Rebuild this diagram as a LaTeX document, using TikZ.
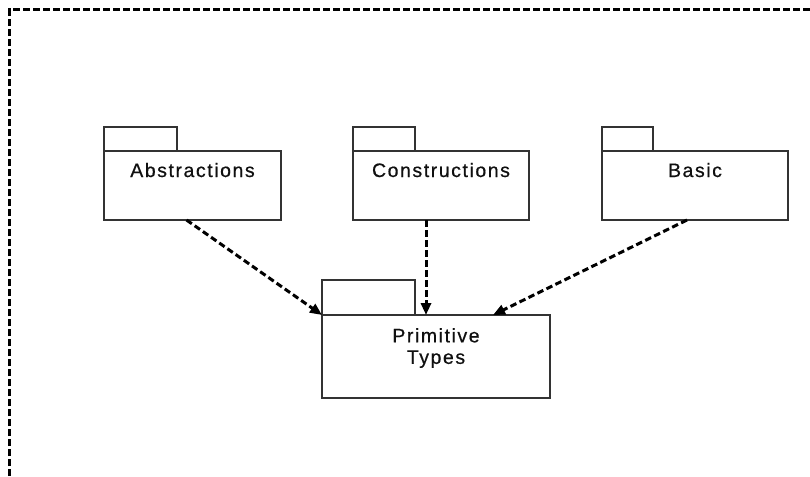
\documentclass[tikz,border=0pt]{standalone}
\usepackage{fontspec}
\usetikzlibrary{arrows.meta}
\newfontfamily\pkgfont[LetterSpace=8,FakeBold=0.6]{Liberation Sans}
\definecolor{boxline}{HTML}{333333}
\definecolor{pkgtext}{HTML}{101010}
\tikzset{
  pkgbody/.style={draw=boxline, line width=1.6pt, fill=white, rectangle, inner sep=0pt, outer sep=0pt},
  pkgtab/.style={draw=boxline, line width=1.6pt, rectangle, inner sep=0pt, outer sep=0pt, anchor=south west},
  pkgname/.style={text=pkgtext, font=\pkgfont\fontsize{19.5}{21.5}\selectfont, align=center, inner sep=0pt, anchor=base},
  dep/.style={draw=black, line width=3pt, dash pattern=on 6.5pt off 3.5pt,
    -{Triangle[length=12pt,width=10pt]}},
  frameline/.style={draw=black, line width=2.4pt, dash pattern=on 7pt off 3pt}
}
\begin{document}
\begin{tikzpicture}[x=1pt, y=-1pt]
  \useasboundingbox (0,0) rectangle (810,476);
  % surrounding dashed frame (top and left edges)
  \draw[frameline] (9.5,476) -- (9.5,9.5) -- (810,9.5);

  % package bodies
  \node[pkgbody, minimum width=177pt, minimum height=69pt] (abs) at (192.5,185.5) {};
  \node[pkgbody, minimum width=176pt, minimum height=69pt] (cons) at (441,185.5) {};
  \node[pkgbody, minimum width=186pt, minimum height=69pt] (basic) at (695,185.5) {};
  \node[pkgbody, minimum width=228pt, minimum height=83pt] (prim) at (436,356.5) {};

  % package tabs
  \node[pkgtab, minimum width=73pt, minimum height=24pt] (absTab) at (abs.north west) {};
  \node[pkgtab, minimum width=62pt, minimum height=24pt] (consTab) at (cons.north west) {};
  \node[pkgtab, minimum width=51pt, minimum height=24pt] (basicTab) at (basic.north west) {};
  \node[pkgtab, minimum width=93pt, minimum height=35pt] (primTab) at (prim.north west) {};

  % package names
  \node[pkgname] (absName) at ([yshift=-26pt]abs.north) {Abstractions};
  \node[pkgname] (consName) at ([yshift=-26pt]cons.north) {Constructions};
  \node[pkgname] (basicName) at ([yshift=-26pt]basic.north) {Basic};
  \node[pkgname, anchor=north] (primName) at ([yshift=-13pt]prim.north) {Primitive\\Types};

  % dependencies
  \draw[dep] ([xshift=-6pt]abs.south) -- (prim.north west);
  \draw[dep] ([xshift=-15pt]cons.south) -- ([xshift=-10pt]prim.north);
  \draw[dep] ([xshift=-8pt]basic.south) -- ([xshift=57pt]prim.north);
\end{tikzpicture}
\end{document}
